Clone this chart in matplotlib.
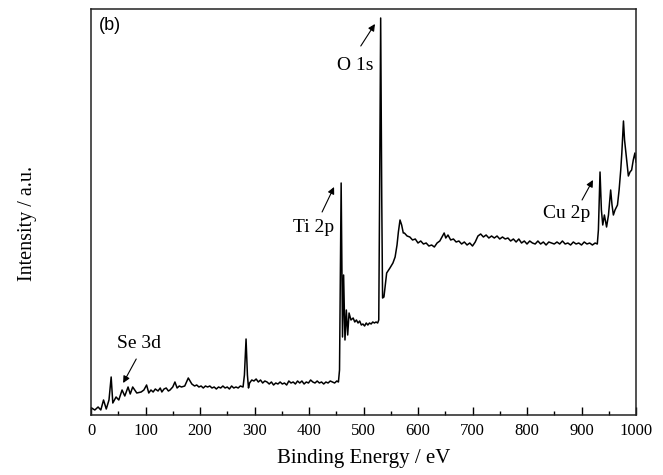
import numpy as np
import matplotlib
matplotlib.use("Agg")
import matplotlib.pyplot as plt
from matplotlib.ticker import MultipleLocator

# XPS survey spectrum (intensity in a.u.)
binding_energy = [
    1, 7, 13, 18, 23, 28, 33, 37, 40, 46, 51, 57, 62, 68, 72, 76.5, 84, 92, 97,
    102, 106, 110, 114, 118, 123, 127, 130, 134, 138, 142, 145, 150, 154, 158,
    162, 166, 172, 178.5, 185, 190,
    194, 198, 202, 206, 210, 214, 218, 222, 226, 230, 234, 238, 242, 246, 250,
    254, 258, 262, 266, 270, 274, 279, 281.5, 284.5, 287, 289,
    291, 295, 299, 303, 307, 311, 315, 319, 323, 327, 331, 335, 339, 343, 347,
    351, 355, 359, 363, 367, 371, 375, 379, 383, 387, 391, 395, 399, 403, 407,
    411, 415, 419, 423, 427, 431, 435, 439, 443, 447, 451, 454,
    456, 459, 461.5, 463.5, 466, 468.5, 471, 473.5,
    477, 481, 484, 487, 490, 493, 496, 499, 502, 505, 508, 511, 514, 517, 520,
    523, 526, 528, 529.5, 531.5, 533.5, 535, 537.5, 542.5, 548.5, 554, 558,
    561.5, 564, 567, 570, 573,
    575, 580, 585, 590, 595, 600, 605, 610, 615, 620, 625, 630, 635, 640, 645,
    648, 651, 655, 660, 665, 670, 675, 680, 685, 690, 695, 700, 705, 710, 715,
    720, 725, 730, 735, 740, 745, 750, 755, 760, 765, 770, 775, 780, 785, 790,
    795, 800, 805, 810, 815, 820, 825, 830, 835, 840, 845, 850, 855, 860, 865,
    870, 875, 880, 885, 890, 895, 900, 905, 910, 915, 920, 925, 929,
    931, 934, 936.5, 939, 942, 946, 949.5, 953.5, 956, 958.5, 961.5, 966, 969,
    972, 974, 977, 979, 982, 986, 989, 992, 995, 998, 1000,
]
intensity = [
    7, 5, 8, 5, 15, 6, 15, 38, 12, 18, 15, 25, 19, 28, 21, 28, 22, 23, 25,
    30, 22, 25, 23, 26, 24, 27, 23, 26, 27, 24, 25, 28, 33, 27,
    29, 28, 29, 37, 31, 29,
    30, 28, 29, 27, 29, 28, 29, 27, 28, 26, 28, 27, 29, 27, 28,
    26, 29, 27, 28, 27, 29, 28, 40, 76, 40, 27,
    32, 35, 34, 36, 33, 35, 32, 34, 33, 31, 33, 30, 32, 31, 33,
    31, 32, 30, 34, 32, 33, 31, 34, 32, 34, 31, 33, 32, 35, 33,
    32, 34, 32, 33, 31, 33, 32, 34, 33, 32, 34, 33,
    45, 232, 78, 140, 75, 105, 80, 102,
    95, 97, 93, 95, 92, 94, 90, 91, 89, 92, 90, 92, 91, 93, 92,
    93, 92, 95, 215, 397, 215, 117, 118, 142, 147, 152, 158,
    170, 183, 195, 190, 182,
    182, 179, 178, 175, 176, 172, 174, 171, 172, 169, 170, 168, 172, 174, 179,
    182, 177, 180, 175, 176, 173, 174, 171, 173, 170, 172, 169, 173, 179, 181,
    178, 180, 177, 179, 177, 179, 176, 178, 176, 177, 174, 176, 173, 176, 172,
    174, 171, 174, 172, 171, 174, 171, 173, 170, 173, 172, 171, 173, 171, 174,
    171, 172, 170, 173, 171, 172, 170, 173, 171, 172, 170, 172, 171,
    185, 243, 205, 190, 200, 188, 200, 225, 210, 200, 205, 210, 225,
    245, 262, 294, 275, 260, 239, 243, 245, 255, 262, 253,
]

peak_labels = ["O 1s", "Ti 2p", "Se 3d", "Cu 2p"]
label_pos = [(484, 350), (408, 188), (88, 71), (873, 202)]
arrow_tail = [(495, 369), (424, 203), (83, 56), (901, 215)]
arrow_tip = [(521, 391), (446, 228), (59, 32), (921, 235)]

serif = "Liberation Serif"

fig = plt.figure(figsize=(6.63, 4.75), dpi=100)
ax = fig.add_axes([91 / 663, 60 / 475, 545 / 663, 406 / 475])

ax.plot(binding_energy, intensity, color="black", lw=1.1)

ax.set_xlim(0, 1000)
ax.set_ylim(0, 406)
ax.xaxis.set_major_locator(MultipleLocator(100))
ax.xaxis.set_minor_locator(MultipleLocator(50))
ax.tick_params(axis="x", which="both", direction="in", top=False, pad=6,
               labelsize=12, width=1.0)
ax.tick_params(axis="x", which="major", length=6)
ax.tick_params(axis="x", which="minor", length=3)
ax.set_yticks([])
for lbl in ax.get_xticklabels():
    lbl.set_fontfamily(serif)
for sp in ax.spines.values():
    sp.set_linewidth(1.1)
    sp.set_color("#222222")

ax.set_xlabel("Binding Energy / eV", fontsize=15, family=serif)
ax.xaxis.set_label_coords(0.5, (415 - 449) / 406)
ax.set_ylabel("Intensity / a.u.", fontsize=14.5, family=serif)
ax.yaxis.set_label_coords((37 - 91) / 545, 0.473)

for name, pos, tail, tip in zip(peak_labels, label_pos, arrow_tail, arrow_tip):
    ax.text(pos[0], pos[1], name, fontsize=14, family=serif,
            ha="center", va="center")
    ax.annotate("", xy=tip, xytext=tail,
                arrowprops=dict(arrowstyle="-|>", color="black", lw=0.8,
                                mutation_scale=10, shrinkA=0, shrinkB=0))

ax.text(0.035, 0.96, "(b)", transform=ax.transAxes, fontsize=13,
        family="Liberation Sans", ha="center", va="center")

fig.savefig("out.png", dpi=100)
